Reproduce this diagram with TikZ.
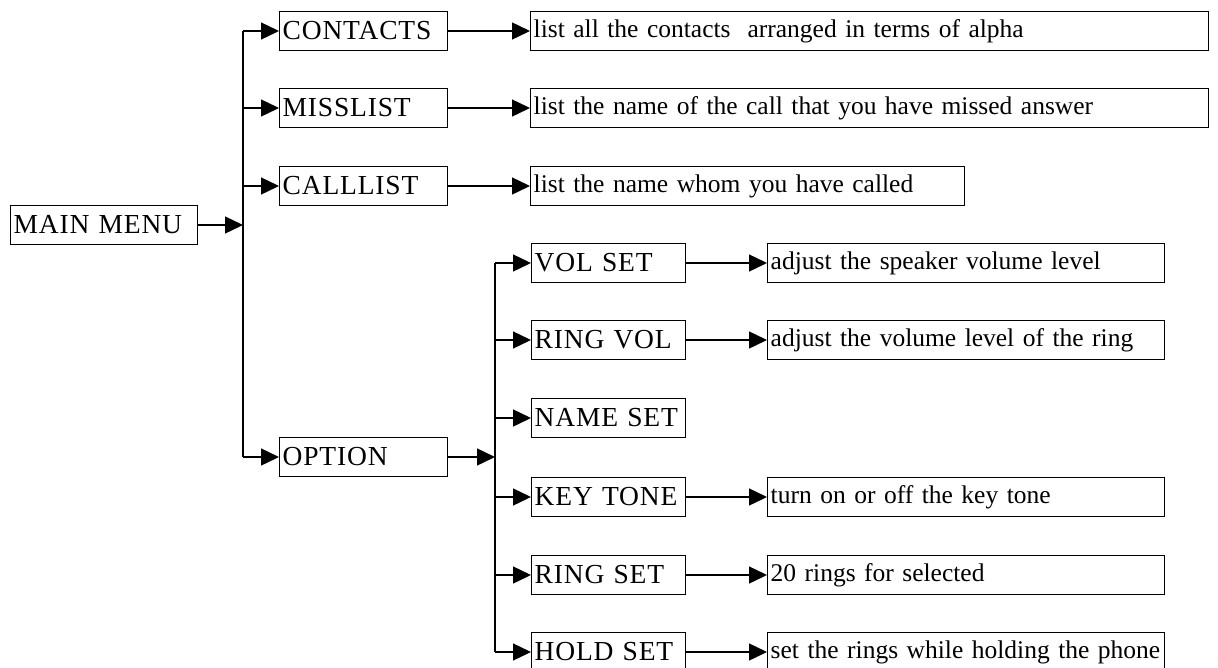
\documentclass[tikz,border=0pt]{standalone}
\usepackage{fontspec}
\setmainfont{Liberation Serif}
\newfontfamily\capsfont[LetterSpace=3]{Liberation Serif}
\usepackage{tikz}
\usetikzlibrary{arrows.meta,positioning}
\tikzset{every picture/.style={
  >={Triangle[length=18pt,width=17pt]}   % Filled triangle arrows.
  }
}

\begin{document}
\begin{tikzpicture}[
    x=1pt,
    y=-1pt,
    line width=1.4pt,
    menupart/.style={
      rectangle,
      draw,
      anchor=west,
      minimum height=39pt,
      inner xsep=3pt,
      inner ysep=0pt,
      align=left,
      font=\capsfont\fontsize{27.5}{30}\selectfont,
      text width=162pt
    },
    subpart/.style={
      menupart,
      text width=148pt
    },
    infopart/.style={
      menupart,
      font=\fontsize{25.5}{30}\selectfont,
      text width=391pt
    }]

    \useasboundingbox (0,0) rectangle (1218,667);

    % The main menu and its four entries.
    \node[menupart,text width=181pt] (main) at (10,225) {MAIN MENU};
    \node[menupart] (contacts) at (279,31)  {CONTACTS};
    \node[menupart] (misslist) at (279,108) {MISSLIST};
    \node[menupart] (calllist) at (279,186) {CALLLIST};
    \node[menupart] (option)   at (279,457) {OPTION};

    % What the first three entries show.
    \node[infopart,text width=672pt] (contactsinfo) at (530,31)
      {list all the contacts\ \ arranged in terms of alpha};
    \node[infopart,text width=672pt] (missinfo) at (530,108)
      {list the name of the call that you have missed answer};
    \node[infopart,text width=428pt] (callinfo) at (530,186)
      {list the name whom you have called};

    % The settings under OPTION.
    \node[subpart] (volset)  at (531,263) {VOL SET};
    \node[subpart] (ringvol) at (531,340) {RING VOL};
    \node[subpart] (nameset) at (531,418) {NAME SET};
    \node[subpart] (keytone) at (531,497) {KEY TONE};
    \node[subpart] (ringset) at (531,575) {RING SET};
    \node[subpart] (holdset) at (531,652) {HOLD SET};

    \node[infopart] (volinfo)  at (767,263) {adjust the speaker volume level};
    \node[infopart] (ringinfo) at (767,340) {adjust the volume level of the ring};
    \node[infopart] (keyinfo)  at (767,497) {turn on or off the key tone};
    \node[infopart] (rsetinfo) at (767,575) {20 rings for selected};
    \node[infopart] (holdinfo) at (767,652)
      {\mbox{set the rings while holding the phone}};

    % Branch lines from the main menu.
    \coordinate (bus) at (243,225);
    \draw (bus |- contacts.west) -- (bus |- option.west);
    \draw[->] (main) -- (bus);
    \draw[->] (bus |- contacts) -- (contacts);
    \draw[->] (bus |- misslist) -- (misslist);
    \draw[->] (bus |- calllist) -- (calllist);
    \draw[->] (bus |- option) -- (option);

    % Branch lines from OPTION.
    \coordinate (optbus) at (495,457);
    \draw (optbus |- volset.west) -- (optbus |- holdset.west);
    \draw[->] (option) -- (optbus);
    \draw[->] (optbus |- volset) -- (volset);
    \draw[->] (optbus |- ringvol) -- (ringvol);
    \draw[->] (optbus |- nameset) -- (nameset);
    \draw[->] (optbus |- keytone) -- (keytone);
    \draw[->] (optbus |- ringset) -- (ringset);
    \draw[->] (optbus |- holdset) -- (holdset);

    % Entries to their descriptions.
    \draw[->] (contacts) -- (contactsinfo);
    \draw[->] (misslist) -- (missinfo);
    \draw[->] (calllist) -- (callinfo);
    \draw[->] (volset)   -- (volinfo);
    \draw[->] (ringvol)  -- (ringinfo);
    \draw[->] (keytone)  -- (keyinfo);
    \draw[->] (ringset)  -- (rsetinfo);
    \draw[->] (holdset)  -- (holdinfo);
  \end{tikzpicture}
\end{document}
